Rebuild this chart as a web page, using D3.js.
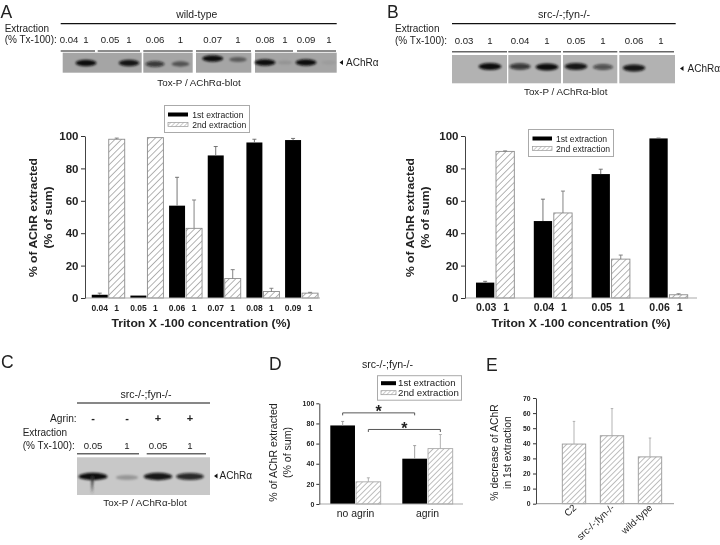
<!DOCTYPE html>
<html><head><meta charset="utf-8">
<script src="https://cdn.jsdelivr.net/npm/d3@7"></script>
<style>
html,body{margin:0;padding:0;background:#fff}
svg{display:block;filter:blur(0.35px)}
text{font-family:"Liberation Sans",Arial,sans-serif;fill:#222}
</style></head><body><svg id="c" width="720" height="545"></svg>
<script>
// ---- data ----
const concA = ["0.04","0.05","0.06","0.07","0.08","0.09"];
const firstA = [2,1.5,57,88,96,97.5];
const firstErrA = [1,0,17.5,5.5,2,1];
const secondA = [98,99,43,12,4,3];
const secondErrA = [0.7,0,17.5,5.5,2,0.5];

const concB = ["0.03","0.04","0.05","0.06"];
const firstB = [9.5,47.5,76.5,98.5];
const firstErrB = [0.8,13.5,3,0.2];
const secondB = [90.5,52.5,24,2];
const secondErrB = [0.3,13.5,2.5,0.6];

const groupsD = ["no agrin","agrin"];
const firstD = [78,45];
const firstErrD = [4,13];
const secondD = [22,55];
const secondErrD = [4,14];

const catsE = ["C2","src-/-;fyn-/-","wild-type"];
const valuesE = [39.5,45,31];
const errE = [15,18,12.5];

const seriesNames = ["1st extraction","2nd extraction"];
const axisA = [0,20,40,60,80,100];
const axisE = [0,10,20,30,40,50,60,70];

const lanesA = ["0.04","1","0.05","1","0.06","1","0.07","1","0.08","1","0.09","1"];
const bandsA = [0,1,0,0.95,0.72,0.5,1,0.45,1,0.1,1,0.06];
const lanesB = ["0.03","1","0.04","1","0.05","1","0.06","1"];
const bandsB = [0,1,0.75,1,0.95,0.6,0.95,0];
const lanesC = ["0.05","1","0.05","1"];
const agrinC = ["-","-","+","+"];
const bandsC = [1,0.25,0.95,0.85];

// ---- drawing ----
const svg = d3.select("#c");
const defs = svg.append("defs");
function hatch(id,color,w,gap){
  const p = defs.append("pattern").attr("id",id).attr("patternUnits","userSpaceOnUse")
    .attr("width",gap).attr("height",gap).attr("patternTransform","rotate(45)");
  p.append("rect").attr("width",gap).attr("height",gap).attr("fill","#fff");
  p.append("line").attr("x1",0).attr("x2",0).attr("y1",0).attr("y2",gap)
    .attr("stroke",color).attr("stroke-width",w*2);
}
hatch("hA","#6a6a6a",0.5,4.6);
hatch("hD","#8a8a8a",0.55,3.8);
hatch("hL","#999",0.5,3);
defs.append("filter").attr("id","soft").attr("x","-30%").attr("y","-60%").attr("width","160%").attr("height","220%")
  .append("feGaussianBlur").attr("stdDeviation",1.3);

function label(x,y,t,o={}){
  const e = svg.append("text").attr("x",x).attr("y",y).text(t)
    .attr("font-size",o.size||10).attr("text-anchor",o.anchor||"start");
  if(o.bold) e.attr("font-weight","bold");
  if(o.rot!==undefined) e.attr("transform",`rotate(${o.rot} ${x} ${y})`);
  if(o.len) e.attr("textLength",o.len).attr("lengthAdjust","spacingAndGlyphs");
  return e;
}
function rule(x1,x2,y,color,w){
  svg.append("line").attr("x1",x1).attr("x2",x2).attr("y1",y).attr("y2",y)
    .attr("stroke",color).attr("stroke-width",w);
}
function letter(x,y,t){ label(x,y,t,{size:17.5}); }

function yAxis(o){
  const g = svg.append("g").attr("transform",`translate(${o.x},0)`)
    .call(d3.axisLeft(o.y).tickValues(o.ticks).tickSize(o.tick).tickPadding(o.pad).tickSizeOuter(0));
  g.selectAll("text").attr("font-size",o.size).attr("font-weight","bold")
    .attr("font-family","'Liberation Sans'").attr("fill","#222");
  g.selectAll("line").attr("stroke","#333").attr("stroke-width",1);
  g.select(".domain").attr("stroke","#444").attr("stroke-width",1);
}
function xLine(y0,x0,x1,color){
  svg.append("line").attr("x1",x0).attr("x2",x1).attr("y1",y0).attr("y2",y0)
    .attr("stroke",color).attr("stroke-width",1.2);
}
function bars(rows,y,base,fill,stroke,errColor,capW){
  const g = svg.append("g");
  g.selectAll("rect").data(rows).join("rect")
    .attr("x",d=>d.x).attr("width",d=>d.w)
    .attr("y",d=>y(d.v)).attr("height",d=>y(0)-y(d.v))
    .attr("fill",fill).attr("stroke",stroke).attr("stroke-width",fill.startsWith("url")?0.9:0);
  const e = rows.filter(d=>d.e>0);
  g.selectAll("path.err").data(e).join("path").attr("class","err")
    .attr("d",d=>{const c=d.x+d.w/2;
      return `M${c},${y(d.v)}V${y(d.v+d.e)}M${c-capW/2},${y(d.v+d.e)}H${c+capW/2}`;})
    .attr("fill","none").attr("stroke",errColor).attr("stroke-width",0.9);
}
function legend(x,y,w,h,sx,sw,tx,dy1,dy2,fs,patt){
  svg.append("rect").attr("x",x).attr("y",y).attr("width",w).attr("height",h)
    .attr("fill","#fff").attr("stroke","#aaa").attr("stroke-width",1);
  svg.append("rect").attr("x",sx).attr("y",y+dy1-5).attr("width",sw).attr("height",4).attr("fill","#000");
  svg.append("rect").attr("x",sx).attr("y",y+dy2-5).attr("width",sw).attr("height",4)
    .attr("fill",`url(#${patt})`).attr("stroke","#999").attr("stroke-width",0.7);
  label(tx,y+dy1,seriesNames[0],{size:fs});
  label(tx,y+dy2,seriesNames[1],{size:fs});
}

// grouped bold chart (panels A, B)
function groupChart(o){
  const y = d3.scaleLinear().domain([0,100]).range([298,136]);
  const x0 = d3.scaleBand().domain(o.cats).range(o.range).paddingInner(o.pad).paddingOuter(o.pad/2);
  const x1 = d3.scaleBand().domain([0,1]).range([0,x0.bandwidth()]).paddingInner(o.gap);
  const rows = (vals,errs,i)=>o.cats.map((c,k)=>({x:x0(c)+x1(i),w:x1.bandwidth(),v:vals[k],e:errs[k]}));
  bars(rows(o.first,o.firstErr,0),y,0,"#000","none","#666",4);
  bars(rows(o.second,o.secondErr,1),y,0,"url(#hA)","#8c8c8c","#777",4);
  xLine(y(0),o.axisX,o.axisEnd,"#aaa");
  yAxis({x:o.axisX,y,ticks:axisA,tick:4,pad:2.5,size:11.5});
  o.cats.forEach(c=>{
    label(x0(c)+x1(0)+x1.bandwidth()/2+(o.lblDx||0),o.lblY,c,{size:o.lblSize,bold:true,anchor:"middle"});
    label(x0(c)+x1(1)+x1.bandwidth()/2+(o.lblDx||0),o.lblY,"1",{size:o.lblSize,bold:true,anchor:"middle"});
  });
  label(o.titleX,326.5,"Triton X -100 concentration (%)",{size:11,bold:true,anchor:"middle",len:179});
  label(o.ylab1,217.5,"% of AChR extracted",{size:10.5,bold:true,anchor:"middle",rot:-90,len:119});
  label(o.ylab2,217.5,"(% of sum)",{size:10.5,bold:true,anchor:"middle",rot:-90,len:62});
}

groupChart({cats:concA,first:firstA,firstErr:firstErrA,second:secondA,secondErr:secondErrA,
  range:[88.9,320.9],pad:0.147,gap:0.06,axisX:85,axisEnd:320,lblY:310.5,lblSize:8.5,
  titleX:201,ylab1:36.5,ylab2:51.5,lblDx:0});
groupChart({cats:concB,first:firstB,firstErr:firstErrB,second:secondB,secondErr:secondErrB,
  range:[466.25,697.45],pad:0.337,gap:0.085,axisX:465,axisEnd:697,lblY:310.5,lblSize:10.5,
  titleX:581,ylab1:414,ylab2:429,lblDx:1});
legend(164.5,105.5,85,27,168,20,192.3,12,22,8.6,"hL");
legend(528.5,129.5,85,27,532.5,19.5,556,12,22,8.6,"hL");

// panel D
(function(){
  const y = d3.scaleLinear().domain([0,100]).range([504,403.3]);
  const x0 = d3.scaleBand().domain(groupsD).range([319.5,463.5]).paddingInner(0.3).paddingOuter(0.15);
  const x1 = d3.scaleBand().domain([0,1]).range([0,x0.bandwidth()]).paddingInner(0.04);
  const rows=(v,e,i)=>groupsD.map((g,k)=>({x:x0(g)+x1(i),w:x1.bandwidth(),v:v[k],e:e[k]}));
  bars(rows(firstD,firstErrD,0),y,0,"#000","none","#999",3);
  bars(rows(secondD,secondErrD,1),y,0,"url(#hD)","#aaa","#aaa",3);
  xLine(y(0),319.3,463,"#aaa");
  yAxis({x:319.3,y,ticks:axisA,tick:3,pad:2,size:7});
  groupsD.forEach(g=>label(x0(g)+x0.bandwidth()/2,517,g,{size:10.4,anchor:"middle"}));
  const c=(g,i)=>x0(g)+x1(i)+x1.bandwidth()/2;
  [[0,0],[1,1]].forEach(([i],n)=>{
    const yb=y(n?74:90.5), a=c(groupsD[0],i), b=c(groupsD[1],i);
    svg.append("path").attr("d",`M${a},${yb+2.5}V${yb}H${b}V${yb+2.5}`)
      .attr("fill","none").attr("stroke","#444").attr("stroke-width",0.9);
    label((a+b)/2,yb+4.5,"*",{size:16,bold:true,anchor:"middle"});
  });
  label(276.5,452.5,"% of AChR extracted",{size:10.6,anchor:"middle",rot:-90});
  label(291,452.5,"(% of sum)",{size:10.6,anchor:"middle",rot:-90});
  label(387.5,368,"src-/-;fyn-/-",{size:10.6,anchor:"middle"});
  legend(377.5,375.7,84,24.5,381,15,398,10.5,20,9.7,"hL");
})();

// panel E
(function(){
  const y = d3.scaleLinear().domain([0,70]).range([503.7,398]);
  const x = d3.scaleBand().domain(catsE).range([543.3,680.7]).paddingInner(0.384).paddingOuter(0.5);
  const rows = catsE.map((c,k)=>({x:x(c),w:x.bandwidth(),v:valuesE[k],e:errE[k]}));
  bars(rows,y,0,"url(#hD)","#999","#aaa",2.5);
  xLine(y(0),536,674,"#aaa");
  yAxis({x:536,y,ticks:axisE,tick:3,pad:2.5,size:6.8});
  catsE.forEach(c=>label(x(c)+x.bandwidth()/2+3,508.5,c,{size:9.7,anchor:"end",rot:-43}));
  label(497.5,452.5,"% decrease of AChR",{size:10.4,anchor:"middle",rot:-90});
  label(510.5,452.5,"in 1st extraction",{size:10.4,anchor:"middle",rot:-90});
})();

// blots
function blot(o){
  const xs = d3.scaleOrdinal(d3.range(o.lanes.length),o.centers);
  o.blocks.forEach(b=>{
    svg.append("rect").attr("x",b[0]).attr("y",o.y0).attr("width",b[1]-b[0]).attr("height",o.y1-o.y0).attr("fill",o.bg);
  });
  const rx = d3.scaleLinear().domain([0,1]).range([o.rx*0.7,o.rx]);
  const g = svg.append("g").attr("filter","url(#soft)");
  o.bands.forEach((v,i)=>{
    if(!v) return;
    g.append("ellipse").attr("cx",xs(i)).attr("cy",o.bandY[i]).attr("rx",rx(v)).attr("ry",o.ry*(0.6+0.4*v))
      .attr("fill","#0c0c0c").attr("opacity",v);
  });
  if(o.tail!==undefined){
    g.append("path").attr("d",`M${xs(o.tail)-2},${o.bandY[o.tail]}L${xs(o.tail)+1},${o.bandY[o.tail]}L${xs(o.tail)-1},${o.y1-1}Z`)
      .attr("fill","#333");
  }
  o.lanes.forEach((t,i)=>label(xs(i),o.laneY,t,{size:9.6,anchor:"middle"}));
  o.segs.forEach(s=>rule(s[0],s[1],o.segY,"#666",1.4));
  rule(o.top[0],o.top[1],o.top[2],"#111",1.2);
}
function caret(x,y){
  svg.append("path").attr("d",d3.line()([[x,y],[x+3.5,y-2.5],[x+3.5,y+2.5]])+"Z").attr("fill","#111");
}

// A
blot({lanes:lanesA,bands:bandsA,bg:"#a5a5a5",y0:52.7,y1:72.7,laneY:43,segY:51,rx:10.5,ry:3.3,
  centers:[69,86,110,129,155,180.5,212.7,238,265,285,306,329],
  bandY:[63,63,63,63,64,64,58.5,59.5,62.5,62.5,62.5,62.5],
  blocks:[[62.7,141.7],[143.3,192.7],[196,251.3],[255,336.7]],
  segs:[[60.7,95],[97.7,140],[143.3,192.7],[196,251],[255,293],[297,336]],
  top:[60.7,336.7,23.7]});
label(196.7,18,"wild-type",{size:10.4,anchor:"middle"});
label(4.7,32,"Extraction",{size:10});
label(4.7,43,"(% Tx-100):",{size:10});
label(199,85.5,"Tox-P / AChRα-blot",{size:9.8,anchor:"middle"});
caret(339.5,62.5);
label(346,65.5,"AChRα",{size:10});
letter(0.5,18,"A");

// B
blot({lanes:lanesB,bands:bandsB,bg:"#b2b2b2",y0:55,y1:83.3,laneY:44,segY:51.7,rx:11.5,ry:3.5,
  centers:[464,490,520,547,576,603,634,661],
  bandY:[66.5,66.5,66.5,67,66.5,67,68,68],
  blocks:[[452,507],[508.3,561],[563,617.3],[619.3,675]],
  segs:[[452,507],[508.3,561],[563,617.3],[619.3,674]],
  top:[452,675.7,23.7]});
label(564,18,"src-/-;fyn-/-",{size:10.8,anchor:"middle"});
label(395,32,"Extraction",{size:10});
label(395,44,"(% Tx-100):",{size:10});
label(565.7,95,"Tox-P / AChRα-blot",{size:9.8,anchor:"middle"});
caret(680,68.5);
label(687.5,71.5,"AChRα",{size:10});
letter(387,18,"B");

// C
blot({lanes:lanesC,bands:bandsC,bg:"#c8c8c8",y0:457.3,y1:495,laneY:449,segY:453.7,rx:14.5,ry:3.7,
  centers:[93,127,158,190],
  bandY:[476.5,477.5,476.5,476.5],
  blocks:[[77,210]],
  segs:[[77,139],[146.7,206]],
  top:[77,210,403],tail:0});
agrinC.forEach((t,i)=>label([93,127,158,190][i],422,t,{size:11,bold:true,anchor:"middle"}));
label(146,398,"src-/-;fyn-/-",{size:10.6,anchor:"middle"});
label(76.7,422,"Agrin:",{size:10.2,anchor:"end"});
label(22.7,436,"Extraction",{size:10});
label(22.7,449,"(% Tx-100):",{size:10});
label(145,505.5,"Tox-P / AChRα-blot",{size:9.8,anchor:"middle"});
caret(214,476);
label(219.5,479,"AChRα",{size:10});
letter(1,368,"C");
letter(269,370,"D");
letter(486,370.5,"E");
</script></body></html>
